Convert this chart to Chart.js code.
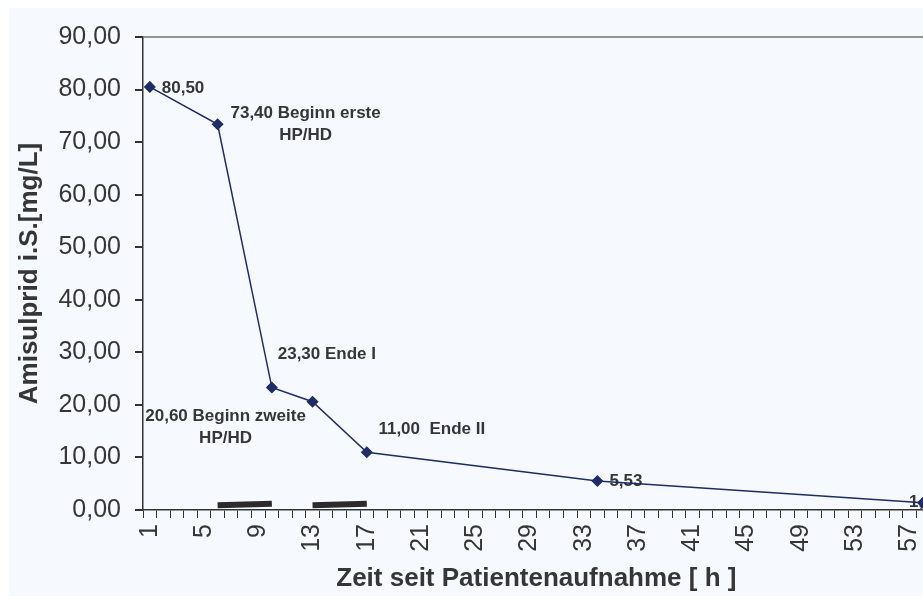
<!DOCTYPE html>
<html>
<head>
<meta charset="utf-8">
<script src="https://cdn.jsdelivr.net/npm/chart.js@4.4.0/dist/chart.umd.min.js"></script>
<style>
  html, body { margin: 0; padding: 0; background: #ffffff; overflow: hidden; }
  #wrap { position: absolute; left: 9px; top: 8px; width: 950px; height: 588px; background: #f6f9fd; }
</style>
</head>
<body>
<div id="wrap"><canvas id="myChart" width="950" height="588"></canvas></div>
<script>
// hours after admission (category labels 1..58)
const hourLabels = Array.from({ length: 58 }, (_, i) => String(i + 1));

// measured serum levels
const sampleHours = ['1', '6', '10', '13', '17', '34', '58'];
const levels = [80.50, 73.40, 23.30, 20.60, 11.00, 5.53, 1.38];
const notes = [
	['80,50'],
	['73,40 Beginn erste', 'HP/HD'],
	['23,30 Ende I'],
	['20,60 Beginn zweite', 'HP/HD'],
	['11,00  Ende II'],
	['5,53'],
	['1,38'],
];

// HP/HD sessions (start / end hour, drawn as thick bars near zero)
const sessionStart = ['6', '13'];
const sessionEnd = ['10', '17'];
const sessionStartLevel = [0.9, 0.9];
const sessionEndLevel = [1.2, 1.2];

// where each note sits relative to its point: [dx, dy, align]
const noteOffsets = [
	[12, 1, 'left'],
	[88, -11, 'center'],
	[55, -33, 'center'],
	[-87, 15, 'center'],
	[65, -23, 'center'],
	[12, 0, 'left'],
	[-14, 0, 'left'],
];

const textColor = '#363636';

const notePlugin = {
	id: 'notes',
	beforeDatasetsDraw(chart) {
		const ctx = chart.ctx;
		const meta = chart.getDatasetMeta(0);
		ctx.save();
		ctx.font = 'bold 17px "Liberation Sans", Arial, sans-serif';
		ctx.fillStyle = textColor;
		ctx.textBaseline = 'middle';
		meta.data.forEach((pt, i) => {
			const [dx, dy, align] = noteOffsets[i];
			ctx.textAlign = align;
			notes[i].forEach((line, j) => {
				ctx.fillText(line, pt.x + dx, pt.y + dy + j * 22);
			});
		});
		ctx.restore();
	}
};

const sessionSets = sessionStart.map((s, i) => ({
	data: [{ x: s, y: sessionStartLevel[i] }, { x: sessionEnd[i], y: sessionEndLevel[i] }],
	borderColor: '#2b2b2b',
	borderWidth: 6,
	borderCapStyle: 'butt',
	pointRadius: 0,
	tension: 0,
}));

new Chart('myChart', {
	type: 'line',
	data: {
		labels: hourLabels,
		datasets: [{
			data: sampleHours.map((h, i) => ({ x: h, y: levels[i] })),
			borderColor: '#1f2c66',
			borderWidth: 1.5,
			pointStyle: 'rectRot',
			pointRadius: 5,
			pointBackgroundColor: '#1f2c66',
			pointBorderColor: '#1f2c66',
			tension: 0,
		}, ...sessionSets]
	},
	options: {
		responsive: false,
		animation: false,
		layout: { padding: { top: 26, right: 4, bottom: 0, left: 0 } },
		plugins: {
			legend: { display: false },
			tooltip: { enabled: false }
		},
		scales: {
			x: {
				type: 'category',
				offset: true,
				afterFit(scale) { scale.height = 86; },
				grid: {
					offset: true,
					drawOnChartArea: false,
					tickColor: '#333',
					tickLength: 8,
				},
				border: { color: '#333', width: 1.5 },
				ticks: {
					autoSkip: false,
					maxRotation: 90,
					minRotation: 90,
					padding: 6,
					color: textColor,
					font: { family: '"Liberation Sans", Arial, sans-serif', size: 25 },
					callback: function(val, idx) {
						return idx % 4 === 0 ? this.getLabelForValue(val) : '';
					}
				},
				title: {
					display: true,
					text: 'Zeit seit Patientenaufnahme [ h ]',
					color: textColor,
					font: { family: '"Liberation Sans", Arial, sans-serif', size: 26, weight: 'bold' },
					padding: { top: 0, bottom: 2 }
				}
			},
			y: {
				min: 0,
				max: 90,
				afterFit(scale) { scale.width = 134; },
				grid: {
					color: (c) => c.tick && c.tick.value === 90 ? '#9a9590' : 'transparent',
					lineWidth: 2,
					tickColor: '#333',
					tickLength: 8,
				},
				border: { color: '#333', width: 1.5 },
				ticks: {
					stepSize: 10,
					padding: 14,
					color: textColor,
					font: { family: '"Liberation Sans", Arial, sans-serif', size: 25 },
					callback: (v) => v.toFixed(2).replace('.', ',')
				},
				title: {
					display: true,
					text: 'Amisulprid i.S.[mg/L]',
					color: textColor,
					font: { family: '"Liberation Sans", Arial, sans-serif', size: 26, weight: 'bold' },
					padding: { top: 5, bottom: 0 }
				}
			}
		}
	},
	plugins: [notePlugin]
});
</script>
</body>
</html>
